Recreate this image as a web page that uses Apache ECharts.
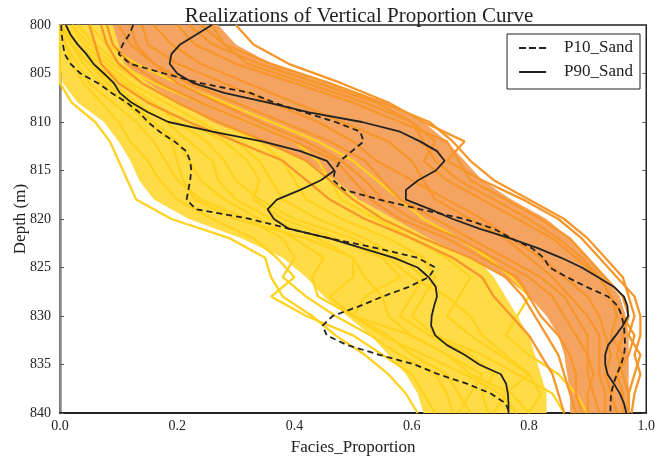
<!DOCTYPE html>
<html>
<head>
<meta charset="utf-8">
<script src="https://cdn.jsdelivr.net/npm/echarts@6/dist/echarts.min.js"></script>
<style>
  html, body { margin: 0; padding: 0; background: #fff; }
  #chart { width: 658px; height: 461px; }
</style>
</head>
<body>
<div id="chart"></div>
<script>
// Depth samples (m) for the percentile curves, 1 m step
const depths = [800,801,802,803,804,805,806,807,808,809,810,811,812,813,814,815,816,817,818,819,820,
                821,822,823,824,825,826,827,828,829,830,831,832,833,834,835,836,837,838,839,840];
// Depth samples (m) for the individual realizations, 2 m step
const depthsReal = [800,802,804,806,808,810,812,814,816,818,820,822,824,826,828,830,832,834,836,838,840];

// Percentile curves of sand proportion
const yellowP10 = [0.002,0.003,0.005,0.008,0.018,0.035,0.065,0.088,0.114,0.135,0.15,0.17,0.195,0.215,0.222,0.224,0.222,0.219,0.216,0.232,0.325,
                   0.39,0.46,0.54,0.61,0.64,0.629,0.595,0.55,0.51,0.465,0.448,0.455,0.49,0.545,0.605,0.645,0.695,0.735,0.76,0.767];
const yellowP90 = [0.01,0.018,0.03,0.045,0.057,0.075,0.092,0.102,0.122,0.15,0.185,0.26,0.345,0.41,0.455,0.468,0.445,0.41,0.37,0.354,0.365,
                   0.39,0.46,0.515,0.57,0.61,0.629,0.641,0.643,0.638,0.634,0.633,0.64,0.66,0.69,0.715,0.752,0.761,0.764,0.765,0.765];
const orangeP10 = [0.125,0.118,0.107,0.1,0.12,0.178,0.24,0.325,0.365,0.417,0.47,0.512,0.518,0.498,0.478,0.469,0.466,0.485,0.545,0.615,0.69,
                   0.74,0.77,0.805,0.825,0.835,0.865,0.898,0.935,0.952,0.958,0.962,0.963,0.964,0.962,0.957,0.95,0.944,0.94,0.939,0.939];
const orangeP90 = [0.259,0.232,0.205,0.19,0.187,0.2,0.228,0.28,0.355,0.425,0.515,0.58,0.614,0.643,0.656,0.641,0.611,0.59,0.59,0.632,0.67,
                   0.715,0.768,0.815,0.855,0.89,0.918,0.945,0.962,0.968,0.969,0.96,0.948,0.935,0.93,0.93,0.934,0.945,0.955,0.962,0.966];

// Densely overlapping core of each realization family (left / right edge per depthsReal)
const yellowCoreL = [0.0,0.0,0.0,0.005,0.03,0.075,0.1,0.12,0.135,0.16,0.22,0.31,0.38,0.42,0.45,0.49,0.53,0.56,0.59,0.61,0.62];
const yellowCoreR = [0.1,0.12,0.15,0.19,0.25,0.32,0.4,0.46,0.52,0.57,0.62,0.67,0.71,0.74,0.76,0.78,0.8,0.81,0.82,0.83,0.83];
const orangeCoreL = [0.09,0.1,0.11,0.15,0.2,0.26,0.34,0.42,0.47,0.51,0.57,0.63,0.7,0.76,0.8,0.83,0.85,0.86,0.865,0.87,0.87];
const orangeCoreR = [0.27,0.3,0.36,0.46,0.55,0.62,0.66,0.69,0.72,0.77,0.83,0.87,0.9,0.93,0.955,0.965,0.97,0.97,0.97,0.97,0.97];

// Individual realizations (values at depthsReal)
const yellowReal = [
  [0,0,0,0,0.02,0.06,0.085,0.1,0.115,0.13,0.19,0.29,0.35,0.36,0.38,0.43,0.47,0.52,0.56,0.59,0.61],
  [0,0.01,0.02,0.04,0.07,0.1,0.12,0.15,0.17,0.2,0.26,0.33,0.37,0.4,0.36,0.42,0.5,0.55,0.6,0.62,0.64],
  [0.01,0.02,0.05,0.08,0.12,0.16,0.2,0.22,0.24,0.28,0.34,0.4,0.45,0.43,0.44,0.5,0.56,0.6,0.66,0.68,0.7],
  [0.02,0.04,0.08,0.12,0.18,0.24,0.3,0.34,0.36,0.38,0.44,0.52,0.58,0.62,0.6,0.58,0.63,0.7,0.74,0.72,0.73],
  [0,0.03,0.06,0.1,0.15,0.22,0.28,0.32,0.34,0.33,0.38,0.47,0.55,0.58,0.52,0.5,0.55,0.62,0.69,0.75,0.78],
  [0.03,0.06,0.1,0.16,0.24,0.32,0.4,0.44,0.46,0.48,0.54,0.6,0.66,0.7,0.68,0.66,0.7,0.75,0.8,0.82,0.8],
  [0.01,0.02,0.04,0.07,0.11,0.15,0.19,0.2,0.21,0.23,0.3,0.42,0.5,0.5,0.46,0.5,0.6,0.66,0.7,0.77,0.8],
  [0.05,0.08,0.13,0.2,0.28,0.36,0.44,0.5,0.54,0.58,0.62,0.68,0.73,0.77,0.8,0.78,0.76,0.8,0.85,0.88,0.9],
  [0,0.01,0.03,0.05,0.09,0.13,0.16,0.18,0.2,0.24,0.32,0.38,0.4,0.38,0.42,0.47,0.53,0.58,0.64,0.66,0.67],
  [0.02,0.05,0.09,0.14,0.2,0.27,0.34,0.38,0.4,0.42,0.48,0.56,0.62,0.64,0.62,0.6,0.64,0.72,0.78,0.84,0.86],
  [0.01,0.03,0.07,0.11,0.16,0.2,0.25,0.28,0.3,0.34,0.4,0.5,0.56,0.6,0.66,0.7,0.72,0.76,0.8,0.76,0.74],
  [0,0.02,0.05,0.09,0.13,0.18,0.22,0.26,0.27,0.3,0.36,0.44,0.5,0.52,0.55,0.56,0.6,0.66,0.72,0.7,0.68]
];
const orangeReal = [
  [0.05,0.06,0.07,0.1,0.15,0.22,0.3,0.38,0.42,0.46,0.52,0.6,0.67,0.72,0.74,0.77,0.8,0.82,0.84,0.85,0.86],
  [0.1,0.12,0.16,0.22,0.3,0.38,0.46,0.52,0.55,0.58,0.64,0.7,0.76,0.82,0.86,0.88,0.9,0.9,0.9,0.91,0.92],
  [0.2,0.23,0.3,0.4,0.5,0.58,0.66,0.68,0.7,0.76,0.82,0.87,0.9,0.93,0.96,0.97,0.96,0.95,0.96,0.97,0.97],
  [0.3,0.33,0.39,0.48,0.56,0.62,0.69,0.66,0.72,0.79,0.85,0.89,0.92,0.95,0.98,0.99,0.99,0.98,0.99,0.98,0.975],
  [0.14,0.15,0.2,0.28,0.36,0.44,0.5,0.54,0.6,0.66,0.72,0.77,0.82,0.86,0.9,0.92,0.93,0.94,0.93,0.94,0.95],
  [0.08,0.09,0.12,0.17,0.24,0.32,0.4,0.47,0.5,0.53,0.58,0.66,0.72,0.78,0.8,0.82,0.85,0.87,0.88,0.88,0.89],
  [0.22,0.26,0.34,0.44,0.54,0.6,0.64,0.62,0.66,0.72,0.78,0.84,0.88,0.92,0.94,0.95,0.94,0.96,0.95,0.94,0.95],
  [0.12,0.13,0.16,0.2,0.27,0.34,0.42,0.48,0.52,0.55,0.6,0.68,0.74,0.8,0.84,0.86,0.88,0.9,0.91,0.9,0.9],
  [0.26,0.28,0.32,0.42,0.52,0.6,0.62,0.64,0.68,0.74,0.8,0.85,0.89,0.92,0.94,0.96,0.98,0.97,0.95,0.96,0.96],
  [0.16,0.19,0.24,0.32,0.4,0.48,0.56,0.6,0.62,0.64,0.7,0.76,0.8,0.84,0.87,0.9,0.92,0.92,0.92,0.93,0.93],
  [0.07,0.08,0.1,0.14,0.2,0.27,0.35,0.42,0.46,0.5,0.55,0.62,0.7,0.76,0.79,0.81,0.83,0.85,0.86,0.87,0.88],
  [0.24,0.28,0.36,0.46,0.55,0.63,0.67,0.7,0.74,0.8,0.86,0.9,0.93,0.96,0.97,0.98,0.97,0.99,0.98,0.97,0.97]
];

const xTicks = [0, 0.2, 0.4, 0.6, 0.8, 1.0];
const yTicks = [800, 805, 810, 815, 820, 825, 830, 835, 840];

const SERIF = '"Liberation Serif", "DejaVu Serif", serif';
const INK = '#222';

// Legend keys: three dashes for P10, one bar for P90
const DASH_ICON = 'path://M0,0h7v2h-7z M10,0h7v2h-7z M20,0h7v2h-7z';
const SOLID_ICON = 'path://M0,0h27v2h-27z';

function pairs(xs, ds) { return xs.map((x, i) => [x, ds[i]]); }

// Filled band between two edges, drawn through the cartesian scales
function band(name, left, right, color) {
  return {
    type: 'custom', name: name, silent: true, clip: true,
    data: [[left[0], depthsReal[0]]],
    encode: { x: 0, y: 1 },
    renderItem: function (params, api) {
      const pts = [];
      for (let i = 0; i < depthsReal.length; i++) pts.push(api.coord([left[i], depthsReal[i]]));
      for (let i = depthsReal.length - 1; i >= 0; i--) pts.push(api.coord([right[i], depthsReal[i]]));
      return { type: 'polygon', shape: { points: pts }, style: { fill: color } };
    }
  };
}

function realization(name, xs, color) {
  return {
    type: 'line', name: name, silent: true, symbol: 'none',
    data: pairs(xs, depthsReal),
    lineStyle: { color: color, width: 2.3 }
  };
}

function percentile(name, xs, dashed) {
  return {
    type: 'line', name: name, symbol: 'none',
    data: pairs(xs, depths),
    itemStyle: { color: INK },
    lineStyle: { color: INK, width: 1.8, type: dashed ? [6, 4] : 'solid' },
    z: 5
  };
}

const series = [];
series.push(band('yellow core', yellowCoreL, yellowCoreR, '#FFDC45'));
yellowReal.forEach((r, i) => series.push(realization('yellow ' + i, r, '#FFD21F')));
series.push(band('orange core', orangeCoreL, orangeCoreR, '#F4A460'));
orangeReal.forEach((r, i) => series.push(realization('orange ' + i, r, '#F7962A')));
series.push(percentile('P10_Sand', yellowP10, true));
series.push(percentile('P90_Sand', yellowP90, false));
series.push(percentile('P10_Sand', orangeP10, true));
series.push(percentile('P90_Sand', orangeP90, false));

const chart = echarts.init(document.getElementById('chart'), null, { renderer: 'canvas' });
chart.setOption({
  animation: false,
  backgroundColor: '#fff',
  title: {
    text: 'Realizations of Vertical Proportion Curve',
    left: 354, top: 1, textAlign: 'center',
    textStyle: { fontFamily: SERIF, fontSize: 21, fontWeight: 'normal', color: INK }
  },
  legend: {
    data: [{ name: 'P10_Sand', icon: DASH_ICON }, { name: 'P90_Sand', icon: SOLID_ICON }],
    orient: 'vertical', right: 18, top: 34,
    itemWidth: 27, itemHeight: 2.5, itemGap: 6,
    padding: [5, 7, 8, 12],
    borderColor: INK, borderWidth: 1, borderRadius: 0,
    backgroundColor: '#fff',
    selectedMode: false,
    textStyle: { fontFamily: SERIF, fontSize: 17, lineHeight: 18, color: INK, padding: [0, 0, 0, 13] }
  },
  grid: {
    left: 60, right: 10, top: 25, bottom: 43,
    show: true, borderColor: INK, borderWidth: 1.5, backgroundColor: '#fff'
  },
  xAxis: {
    type: 'value', min: 0, max: 1, interval: 0.2,
    name: 'Facies_Proportion', nameLocation: 'middle', nameGap: 26,
    nameTextStyle: { fontFamily: SERIF, fontSize: 17, color: INK },
    axisLine: { show: true, lineStyle: { color: INK, width: 2 } },
    axisTick: { show: false },
    splitLine: { show: false },
    axisLabel: {
      fontFamily: SERIF, fontSize: 14, color: INK, margin: 6,
      formatter: v => (xTicks.indexOf(v) >= 0 ? v.toFixed(1) : '')
    }
  },
  yAxis: [{
    type: 'value', inverse: true, min: 800, max: 840, interval: 5,
    name: 'Depth (m)', nameLocation: 'middle', nameGap: 31, nameMoveOverlap: false,
    nameTextStyle: { fontFamily: SERIF, fontSize: 17, color: INK },
    axisLine: { show: true, lineStyle: { color: '#888', width: 2.5 } },
    axisTick: { show: true, inside: true, length: 4, lineStyle: { color: '#555' } },
    splitLine: { show: false },
    axisLabel: {
      fontFamily: SERIF, fontSize: 14, color: INK, margin: 9,
      formatter: v => (yTicks.indexOf(v) >= 0 ? String(v) : '')
    }
  }, {
    type: 'value', inverse: true, min: 800, max: 840, interval: 5, position: 'right',
    axisLine: { show: false },
    axisTick: { show: true, inside: true, length: 4, lineStyle: { color: '#555' } },
    axisLabel: { show: false },
    splitLine: { show: false }
  }],
  series: series
});
</script>
</body>
</html>
